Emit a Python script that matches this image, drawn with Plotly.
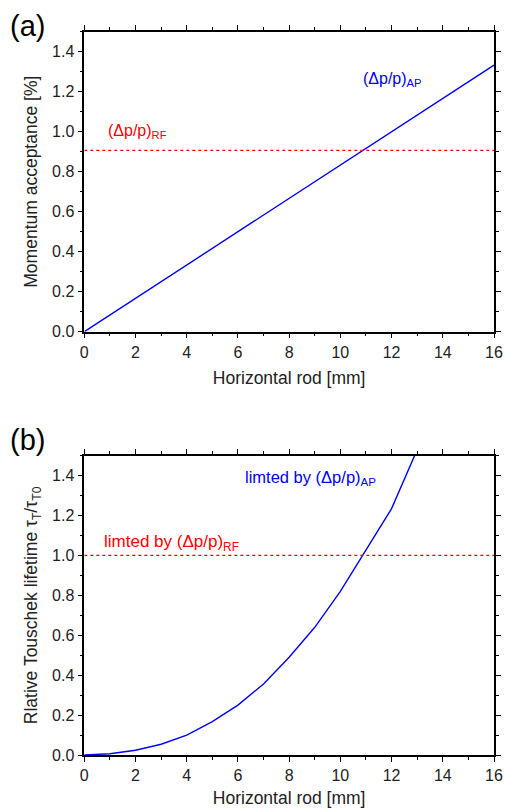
import plotly.graph_objects as go

# ---- data ----
rod_a = [0, 2, 4, 6, 8, 10, 12, 14, 16]
dpp_ap = [0.0, 0.1667, 0.3333, 0.5, 0.6667, 0.8333, 1.0, 1.1667, 1.3333]
rf_x = [0, 16]
dpp_rf = [0.907, 0.907]

rod_b = [0, 1, 2, 3, 4, 5, 6, 7, 8, 9, 10, 11, 12, 13]
tau_ratio = [0.0, 0.006, 0.024, 0.054, 0.10, 0.167, 0.25, 0.356, 0.49, 0.64, 0.82, 1.025, 1.235, 1.53]
tau_rf = [1.0, 1.0]

x_ticks = [0, 2, 4, 6, 8, 10, 12, 14, 16]
y_ticks = [0.0, 0.2, 0.4, 0.6, 0.8, 1.0, 1.2, 1.4]
y_ticklabels = ["0.0", "0.2", "0.4", "0.6", "0.8", "1.0", "1.2", "1.4"]

FONT = "Arial, Liberation Sans, sans-serif"
BLUE = "#0000FF"
RED = "#FF0000"
TXT = "#222"

fig = go.Figure()
fig.add_trace(go.Scatter(x=rod_a, y=dpp_ap, mode="lines", line=dict(color=BLUE, width=1.4),
                         xaxis="x", yaxis="y", showlegend=False))
fig.add_trace(go.Scatter(x=rf_x, y=dpp_rf, mode="lines", line=dict(color=RED, width=1.2, dash="dot"),
                         xaxis="x", yaxis="y", showlegend=False))
fig.add_trace(go.Scatter(x=rod_b, y=tau_ratio, mode="lines", line=dict(color=BLUE, width=1.4),
                         xaxis="x2", yaxis="y2", showlegend=False, cliponaxis=True))
fig.add_trace(go.Scatter(x=rf_x, y=tau_rf, mode="lines", line=dict(color=RED, width=1.2, dash="dot"),
                         xaxis="x2", yaxis="y2", showlegend=False))

W, H = 505, 808
xd = [84.3 / W, 494 / W]
yd_a = [1 - 331.7 / H, 1 - 31.7 / H]
yd_b = [1 - 755 / H, 1 - 455.7 / H]

common_x = dict(range=[0, 16], tickvals=x_ticks, showline=True, linecolor="black", linewidth=1.5,
                mirror="ticks", ticks="outside", ticklen=5, tickwidth=1.2, tickcolor="black",
                showgrid=False, zeroline=False, automargin=False,
                tickfont=dict(family=FONT, size=16, color=TXT),
                minor=dict(dtick=1, ticks="outside", ticklen=3, tickwidth=1.2, tickcolor="black", showgrid=False),
                title=dict(text="Horizontal rod [mm]", font=dict(family=FONT, size=17.5, color=TXT), standoff=12))
common_y = dict(range=[0, 1.5], tickvals=y_ticks, ticktext=y_ticklabels, showline=True, linecolor="black",
                linewidth=1.5, mirror="ticks", ticks="outside", ticklen=5, tickwidth=1.2, tickcolor="black",
                showgrid=False, zeroline=False, automargin=False,
                tickfont=dict(family=FONT, size=16, color=TXT),
                minor=dict(dtick=0.1, ticks="outside", ticklen=3, tickwidth=1.2, tickcolor="black", showgrid=False))

fig.update_layout(
    width=W, height=H, margin=dict(l=0, r=0, t=0, b=0),
    paper_bgcolor="white", plot_bgcolor="white",
    font=dict(family=FONT, color=TXT),
    xaxis=dict(common_x, domain=xd, anchor="y"),
    yaxis=dict(common_y, domain=yd_a, anchor="x",
               title=dict(text="Momentum acceptance [%]", font=dict(family=FONT, size=17.5, color=TXT), standoff=10)),
    xaxis2=dict(common_x, domain=xd, anchor="y2"),
    yaxis2=dict(common_y, domain=yd_b, anchor="x2",
                title=dict(text="Rlative Touschek lifetime τ<sub>T</sub>/τ<sub>T0</sub>",
                           font=dict(family=FONT, size=17.5, color=TXT), standoff=10)),
    annotations=[
        dict(text="(a)", x=8 / W, y=1 - 8 / H, xref="paper", yref="paper", xanchor="left", yanchor="top",
             showarrow=False, font=dict(family=FONT, size=29, color="black")),
        dict(text="(b)", x=8 / W, y=1 - 422 / H, xref="paper", yref="paper", xanchor="left", yanchor="top",
             showarrow=False, font=dict(family=FONT, size=29, color="black")),
        dict(text="(Δp/p)<sub>RF</sub>", x=0.85, y=1.0, xref="x", yref="y", xanchor="left", yanchor="middle",
             showarrow=False, font=dict(family=FONT, size=16, color=RED)),
        dict(text="(Δp/p)<sub>AP</sub>", x=10.8, y=1.26, xref="x", yref="y", xanchor="left", yanchor="middle",
             showarrow=False, font=dict(family=FONT, size=16, color=BLUE)),
        dict(text="limted by (Δp/p)<sub>RF</sub>", x=0.68, y=1.06, xref="x2", yref="y2", xanchor="left",
             yanchor="middle", showarrow=False, font=dict(family=FONT, size=17, color=RED)),
        dict(text="limted by (Δp/p)<sub>AP</sub>", x=6.2, y=1.39, xref="x2", yref="y2", xanchor="left",
             yanchor="middle", showarrow=False, font=dict(family=FONT, size=16.5, color=BLUE)),
    ],
)

# remove the default page margin so the 505x808 figure fills the window exactly
fig.write_html("out.html", config={"displayModeBar": False},
               post_script="document.body.style.margin='0';document.body.style.overflow='hidden';")
